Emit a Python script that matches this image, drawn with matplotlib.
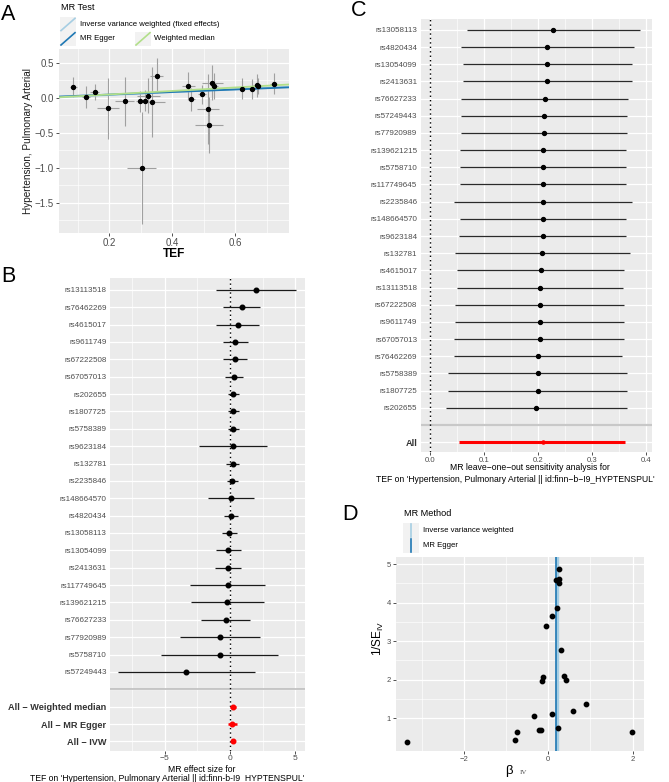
import matplotlib.pyplot as plt
import numpy as np
from matplotlib.patches import Rectangle
from matplotlib.lines import Line2D

plt.rcParams['font.family'] = 'Liberation Sans'
plt.rcParams['mathtext.fontset'] = 'custom'
plt.rcParams['mathtext.rm'] = 'Liberation Sans'

# ---- single SNP wald ratios (panel B / D) ----
snps = ['rs13113518', 'rs76462269', 'rs4615017', 'rs9611749', 'rs67222508',
        'rs67057013', 'rs202655', 'rs1807725', 'rs5758389', 'rs9623184',
        'rs132781', 'rs2235846', 'rs148664570', 'rs4820434', 'rs13058113',
        'rs13054099', 'rs2413631', 'rs117749645', 'rs139621215', 'rs76627233',
        'rs77920989', 'rs5758710', 'rs57249443']
beta = [1.98, 0.89, 0.58, 0.42, 0.37, 0.30, 0.26, 0.25, 0.25, 0.23, 0.20, 0.18,
        0.10, 0.10, -0.05, -0.12, -0.15, -0.17, -0.21, -0.33, -0.75, -0.79, -3.35]
inv_se = [0.643, 1.365, 1.17, 1.98, 2.09, 2.77, 4.88, 4.61, 4.50, 0.75, 3.87, 4.59,
          1.11, 3.66, 3.40, 2.07, 1.95, 0.68, 0.70, 1.04, 0.643, 0.435, 0.374]

# ---- summary methods ----
methods = ['All - Weighted median', 'All - MR Egger', 'All - IVW']
method_b = [0.25, 0.18, 0.208]
method_se = [0.11, 0.18, 0.079]
egger_intercept = 0.013

# ---- scatter data (panel A) ----
bx = [0.087, 0.126, 0.154, 0.196, 0.25, 0.298, 0.303, 0.314, 0.324, 0.335, 0.351, 0.452,
      0.461, 0.494, 0.514, 0.518, 0.528, 0.534, 0.623, 0.653, 0.67, 0.672, 0.724]
by = [0.16, 0.01, 0.085, -0.15, -0.05, -0.047, -1.0, -0.04, 0.035, -0.055, 0.32, 0.17,
      -0.02, 0.05, -0.16, -0.38, 0.22, 0.17, 0.13, 0.13, 0.18, 0.17, 0.2]
sx = [0.012, 0.012, 0.014, 0.035, 0.03, 0.012, 0.045, 0.012, 0.037, 0.042, 0.02, 0.02,
      0.012, 0.012, 0.035, 0.045, 0.032, 0.012, 0.012, 0.012, 0.012, 0.012, 0.012]
sy = [0.14, 0.16, 0.12, 0.43, 0.35, 0.15, 0.80, 0.15, 0.25, 0.50, 0.25, 0.20,
      0.16, 0.13, 0.50, 0.40, 0.25, 0.18, 0.15, 0.14, 0.16, 0.12, 0.15]

# ---- leave-one-out (panel C) ----
loo_snps = ['rs13058113', 'rs4820434', 'rs13054099', 'rs2413631', 'rs76627233',
            'rs57249443', 'rs77920989', 'rs139621215', 'rs5758710', 'rs117749645',
            'rs2235846', 'rs148664570', 'rs9623184', 'rs132781', 'rs4615017',
            'rs13113518', 'rs67222508', 'rs9611749', 'rs67057013', 'rs76462269',
            'rs5758389', 'rs1807725', 'rs202655']
loo_b = [0.227, 0.2166, 0.2166, 0.2166, 0.2117, 0.211, 0.2104, 0.209, 0.209, 0.209,
         0.2086, 0.2086, 0.208, 0.2074, 0.2043, 0.203, 0.203, 0.2025, 0.2025, 0.2,
         0.1994, 0.1988, 0.1963]
loo_lo = [0.0675, 0.056, 0.061, 0.061, 0.0564, 0.0564, 0.0564, 0.055, 0.055, 0.055,
          0.044, 0.0546, 0.0534, 0.046, 0.049, 0.049, 0.0466, 0.0466, 0.0448, 0.0448,
          0.0337, 0.0337, 0.0288]
loo_hi = [0.388, 0.378, 0.373, 0.373, 0.367, 0.365, 0.365, 0.363, 0.363, 0.363,
          0.374, 0.363, 0.362, 0.369, 0.3595, 0.3577, 0.3595, 0.3585, 0.3595, 0.3546,
          0.365, 0.364, 0.364]
all_b, all_lo, all_hi = 0.208, 0.054, 0.361

c_ivw, c_egger, c_wm = '#A6CEE3', '#1F78B4', '#B2DF8A'
tick_grey = '#4D4D4D'

W, H = 669, 782
fig = plt.figure(figsize=(W / 100, H / 100), dpi=100)


def box(l, t, r, b):
    return [l / W, 1 - b / H, (r - l) / W, (b - t) / H]


def gg(ax, size):
    ax.set_facecolor('#EBEBEB')
    for s in ax.spines.values():
        s.set_visible(False)
    ax.grid(True, which='major', color='white', lw=0.9)
    ax.grid(True, which='minor', color='white', lw=0.45)
    ax.set_axisbelow(True)
    ax.tick_params(which='major', length=2.2, width=0.6, color='#333333',
                   labelcolor=tick_grey, labelsize=size, pad=1.5)
    ax.tick_params(which='minor', length=0)


# ---------------- A: scatter ----------------
axA = fig.add_axes(box(59, 49, 289, 233))
gg(axA, 7)
axA.errorbar(bx, by, yerr=sy, fmt='none', ecolor='#A0A0A0', elinewidth=0.8, zorder=2)
axA.errorbar(bx, by, xerr=sx, fmt='none', ecolor='#A0A0A0', elinewidth=0.8, zorder=2)
axA.scatter(bx, by, s=8, color='black', zorder=4)
xs = np.array([0.0, 1.0])
axA.plot(xs, method_b[2] * xs, color=c_ivw, lw=1.3, zorder=3)
axA.plot(xs, egger_intercept + method_b[1] * xs, color=c_egger, lw=1.3, zorder=3)
axA.plot(xs, method_b[0] * xs, color=c_wm, lw=1.3, zorder=3)
axA.set_xlim(0.041, 0.771)
axA.set_ylim(-1.93, 0.70)
axA.set_xticks([0.2, 0.4, 0.6])
axA.set_xticks([0.1, 0.3, 0.5, 0.7], minor=True)
axA.set_yticks([-1.5, -1.0, -0.5, 0.0, 0.5])
axA.set_yticks([-1.75, -1.25, -0.75, -0.25, 0.25], minor=True)

# ---------------- B: forest ----------------
axB = fig.add_axes(box(110, 278, 305, 751))
gg(axB, 6.1)
axB.tick_params(axis='x', pad=0.8)
n = len(snps)
ypos = np.arange(n)
b_arr = np.array(beta)
se_arr = 1 / np.array(inv_se)
axB.errorbar(b_arr, ypos, xerr=1.96 * se_arr, fmt='o', color='black', ecolor='#1A1A1A',
             elinewidth=0.9, markersize=3.3, zorder=3)
mpos = np.arange(n + 1, n + 4)
axB.errorbar(method_b, mpos, xerr=1.96 * np.array(method_se), fmt='o', color='red',
             ecolor='red', elinewidth=1.8, markersize=3.3, zorder=3)
axB.axvline(0, color='black', ls=(0, (1, 2.2)), lw=1.0, zorder=2)
axB.axhline(n, color='#BEBEBE', lw=1.2, zorder=1)
axB.set_xlim(-9.2, 5.75)
axB.set_ylim(n + 3.55, -0.68)
axB.set_xticks([-5, 0, 5])
axB.set_xticks([-7.5, -2.5, 2.5], minor=True)
axB.set_yticks(list(ypos) + [n] + list(mpos))
axB.set_yticklabels(snps + [''] + [m.replace('-', '\u2212') for m in methods])
for i, lab in enumerate(axB.get_yticklabels()):
    if i <= n:
        lab.set_fontsize(5.8)
    else:
        lab.set_fontsize(6.6)
        lab.set_fontweight('bold')
        lab.set_color('#333333')
axB.tick_params(axis='y', length=0, pad=2.5)

# ---------------- C: leave-one-out ----------------
axC = fig.add_axes(box(420.7, 19.3, 651.7, 451.7))
gg(axC, 5.6)
m = len(loo_snps)
ypc = np.arange(m)
axC.hlines(ypc, loo_lo, loo_hi, color='#2A2A2A', lw=0.9, zorder=3)
axC.scatter(loo_b, ypc, s=8, color='black', zorder=4)
axC.hlines(m + 1, all_lo, all_hi, color='red', lw=2.2, zorder=3)
axC.scatter([all_b], [m + 1], s=5, color='red', zorder=4)
axC.axvline(0, color='black', ls=(0, (1, 2.2)), lw=1.0, zorder=2)
axC.axhline(m, color='#C8C8C8', lw=1.6, zorder=1)
axC.set_xlim(-0.0177, 0.41)
axC.set_ylim(m + 1.56, -0.62)
axC.set_xticks([0.0, 0.1, 0.2, 0.3, 0.4])
axC.set_xticks([0.05, 0.15, 0.25, 0.35], minor=True)
axC.set_yticks(list(ypc) + [m, m + 1])
axC.set_yticklabels(loo_snps + ['', 'All'])
for i, lab in enumerate(axC.get_yticklabels()):
    if i <= m:
        lab.set_fontsize(5.8)
    else:
        lab.set_fontsize(6.6)
        lab.set_fontweight('bold')
        lab.set_color('#333333')
axC.tick_params(axis='y', length=0, pad=2.5)

# ---------------- D: funnel ----------------
axD = fig.add_axes(box(396, 557.3, 644, 750.7))
gg(axD, 5.5)
axD.axvline(method_b[2], color=c_ivw, lw=2.4, zorder=2)
axD.axvline(method_b[1], color=c_egger, lw=1.2, zorder=2)
axD.scatter(beta, inv_se, s=10, color='black', zorder=3)
axD.set_xlim(-3.61, 2.27)
axD.set_ylim(0.15, 5.18)
axD.set_xticks([-2, 0, 2])
axD.set_xticks([-3, -1, 1], minor=True)
axD.set_yticks([1, 2, 3, 4, 5])
axD.set_yticks([1.5, 2.5, 3.5, 4.5], minor=True)

# ---------------- overlay: letters, labels, legends ----------------
ov = fig.add_axes([0, 0, 1, 1], zorder=10)
ov.set_xlim(0, W)
ov.set_ylim(H, 0)
ov.axis('off')
ov.patch.set_alpha(0)

for letter, (x, y) in {'A': (1, 15), 'B': (1, 276), 'C': (351, 10), 'D': (342, 514)}.items():
    ov.text(x, y, letter, fontsize=15.5, ha='left', va='center', color='black')

ov.text(28, 141, 'Hypertension, Pulmonary Arterial', rotation=90, ha='center', va='center',
        fontsize=7.2, color='#1A1A1A')
ov.text(174, 254, 'TEF', ha='center', va='center', fontsize=8.6, fontweight='bold')

ov.text(201.5, 769.5, 'MR effect size for', ha='center', va='center', fontsize=6.2)
ov.text(30, 778.5, "TEF on 'Hypertension, Pulmonary Arterial || id:finn-b-I9_HYPTENSPUL'",
        ha='left', va='center', fontsize=6.2)
ov.text(529.5, 467.5, 'MR leave\u2212one\u2212out sensitivity analysis for', ha='center',
        va='center', fontsize=6.2)
ov.text(376, 480, "TEF on 'Hypertension, Pulmonary Arterial || id:finn\u2212b\u2212I9_HYPTENSPUL'",
        ha='left', va='center', fontsize=6.2)

ov.text(378, 638, r'1/SE$_{\mathrm{IV}}$', rotation=90, ha='center', va='center', fontsize=8.5)
ov.text(509, 771, '\u03b2', ha='center', va='center', fontsize=9.5)
ov.text(520, 772, 'IV', ha='left', va='center', fontsize=5, family='Liberation Serif',
        color='#4D4D4D')

# legend A
ov.text(61, 7, 'MR Test', ha='left', va='center', fontsize=6.6)
keysA = [(60, 17.3, c_ivw, 'Inverse variance weighted (fixed effects)'),
         (60, 31.7, c_egger, 'MR Egger'),
         (135, 31.7, c_wm, 'Weighted median')]
for x0, y0, col, lab in keysA:
    ov.add_patch(Rectangle((x0, y0), 16, 14.3, facecolor='#F2F2F2', edgecolor='none'))
    ov.add_line(Line2D([x0 + 1, x0 + 15], [y0 + 13.3, y0 + 1], color=col, lw=1.2))
    ov.text(x0 + 19.5, y0 + 7, lab, ha='left', va='center', fontsize=5.6)

# legend D
ov.text(404, 514, 'MR Method', ha='left', va='center', fontsize=6.6)
keysD = [(522.7, c_ivw, 'Inverse variance weighted'), (538, c_egger, 'MR Egger')]
for y0, col, lab in keysD:
    ov.add_patch(Rectangle((403.3, y0), 15.7, 15.3, facecolor='#F2F2F2', edgecolor='none'))
    ov.add_line(Line2D([411.2, 411.2], [y0 + 1, y0 + 14.3], color=col, lw=1.2))
    ov.text(423.3, y0 + 7.6, lab, ha='left', va='center', fontsize=5.6)

fig.savefig('out.png', dpi=100)
